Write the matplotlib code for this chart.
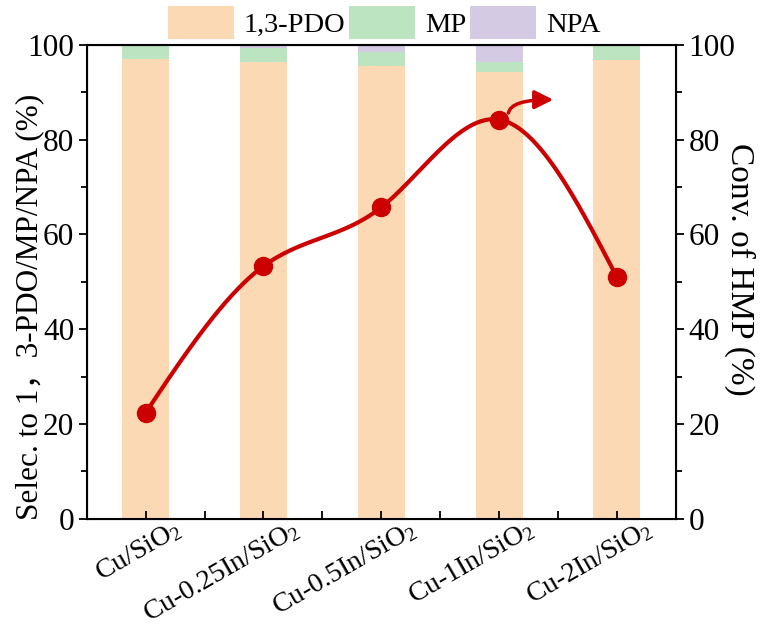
import numpy as np
import matplotlib
matplotlib.use("Agg")
import matplotlib.pyplot as plt
from matplotlib.transforms import ScaledTranslation

plt.rcParams['font.family'] = ['Liberation Serif', 'Noto Sans CJK SC']
plt.rcParams['mathtext.fontset'] = 'custom'
plt.rcParams['mathtext.rm'] = 'Liberation Serif'
plt.rcParams['mathtext.default'] = 'regular'

# data
catalysts = ['Cu/SiO$_2$', 'Cu-0.25In/SiO$_2$', 'Cu-0.5In/SiO$_2$',
             'Cu-1In/SiO$_2$', 'Cu-2In/SiO$_2$']
pdo = [96.9, 96.3, 95.5, 94.3, 96.8]   # selectivity 1,3-PDO
mp = [3.1, 2.9, 2.9, 2.0, 2.9]         # selectivity MP
npa = [0.0, 0.8, 1.6, 3.7, 0.3]        # selectivity NPA
conv = [22.4, 53.3, 65.7, 84.2, 51.0]  # conversion of HMP

c_pdo = '#FCD9B5'
c_mp = '#BCE4C0'
c_npa = '#D5CAE4'
c_red = '#CC0000'


def natural_spline(x, y, n=300):
    """ 自然三次样条, 只用来画平滑的连线 """
    x = np.asarray(x, float)
    y = np.asarray(y, float)
    k = len(x)
    h = np.diff(x)
    A = np.zeros((k, k))
    b = np.zeros(k)
    A[0, 0] = A[-1, -1] = 1.0
    for i in range(1, k - 1):
        A[i, i - 1] = h[i - 1]
        A[i, i] = 2 * (h[i - 1] + h[i])
        A[i, i + 1] = h[i]
        b[i] = 6 * ((y[i + 1] - y[i]) / h[i] - (y[i] - y[i - 1]) / h[i - 1])
    m = np.linalg.solve(A, b)
    xs = np.linspace(x[0], x[-1], n)
    idx = np.clip(np.searchsorted(x, xs) - 1, 0, k - 2)
    x0, x1 = x[idx], x[idx + 1]
    hh = x1 - x0
    t0, t1 = x1 - xs, xs - x0
    ys = (m[idx] * t0 ** 3 / (6 * hh) + m[idx + 1] * t1 ** 3 / (6 * hh)
          + (y[idx] / hh - m[idx] * hh / 6) * t0
          + (y[idx + 1] / hh - m[idx + 1] * hh / 6) * t1)
    return xs, ys


fig = plt.figure(figsize=(7.61, 6.29), dpi=100)
ax = fig.add_axes([0.114, 0.175, 0.774, 0.754])
x = np.arange(len(catalysts))
w = 0.4

b1 = ax.bar(x, pdo, w, color=c_pdo, label='1,3-PDO')
b2 = ax.bar(x, mp, w, bottom=pdo, color=c_mp, label='MP')
b3 = ax.bar(x, npa, w, bottom=np.add(pdo, mp), color=c_npa, label='NPA')

ax.set_xlim(-0.5, 4.5)
ax.set_ylim(0, 100)
ax.set_yticks(range(0, 101, 20))
ax.set_yticks(range(10, 100, 20), minor=True)
ax.set_xticks(x)
ax.set_xticks(x[:-1] + 0.5, minor=True)

ax.tick_params(axis='y', which='both', direction='out', labelsize=22.5, width=1.3, pad=3)
ax.tick_params(axis='y', which='major', length=6)
ax.tick_params(axis='y', which='minor', length=4)
ax.tick_params(axis='x', which='both', direction='in', labelsize=20, width=1.3, length=6)
for s in ax.spines.values():
    s.set_linewidth(1.5)

# 标签旋转后整体右移 (tick_params 之后再设, 否则变换会被重置)
ax.set_xticklabels(catalysts, rotation=30, ha='right', va='top', rotation_mode='anchor')
offset = ScaledTranslation(0.27, 0.07, fig.dpi_scale_trans)
for lab in ax.get_xticklabels():
    lab.set_transform(lab.get_transform() + offset)

ax.set_ylabel('Selec. to 1，3-PDO/MP/NPA (%)', fontsize=22.5, ha='center', va='center')
ax.yaxis.set_label_coords(-0.097, 0.447)

ax2 = ax.twinx()
ax2.set_ylim(0, 100)
ax2.set_yticks(range(0, 101, 20))
ax2.set_yticks(range(10, 100, 20), minor=True)
ax2.tick_params(axis='y', which='both', direction='out', labelsize=22.5, width=1.3, pad=3)
ax2.tick_params(axis='y', which='major', length=6)
ax2.tick_params(axis='y', which='minor', length=4)
ax2.set_ylabel('Conv. of HMP (%)', fontsize=24, rotation=270, ha='center', va='center')
ax2.yaxis.set_label_coords(1.109, 0.527)

xs, ys = natural_spline(x, conv)
ax2.plot(xs, ys, color=c_red, lw=3, zorder=3)
ax2.plot(x, conv, 'o', color=c_red, ms=13, zorder=4)
ax2.annotate('', xy=(3.46, 88.4), xytext=(3.08, 85.6),
             arrowprops=dict(arrowstyle='-|>', color=c_red, lw=2.5, mutation_scale=28,
                             connectionstyle='angle3,angleA=80,angleB=0',
                             shrinkA=0, shrinkB=0))

ax.legend(handles=[b1, b2, b3], loc='lower center', bbox_to_anchor=(0.505, 1.0),
          ncol=3, frameon=False, fontsize=20.5, handlelength=2.3, handleheight=1.4,
          handletextpad=0.35, columnspacing=0.15, borderaxespad=0.1, borderpad=0.1)

fig.savefig('out.png', dpi=100)
